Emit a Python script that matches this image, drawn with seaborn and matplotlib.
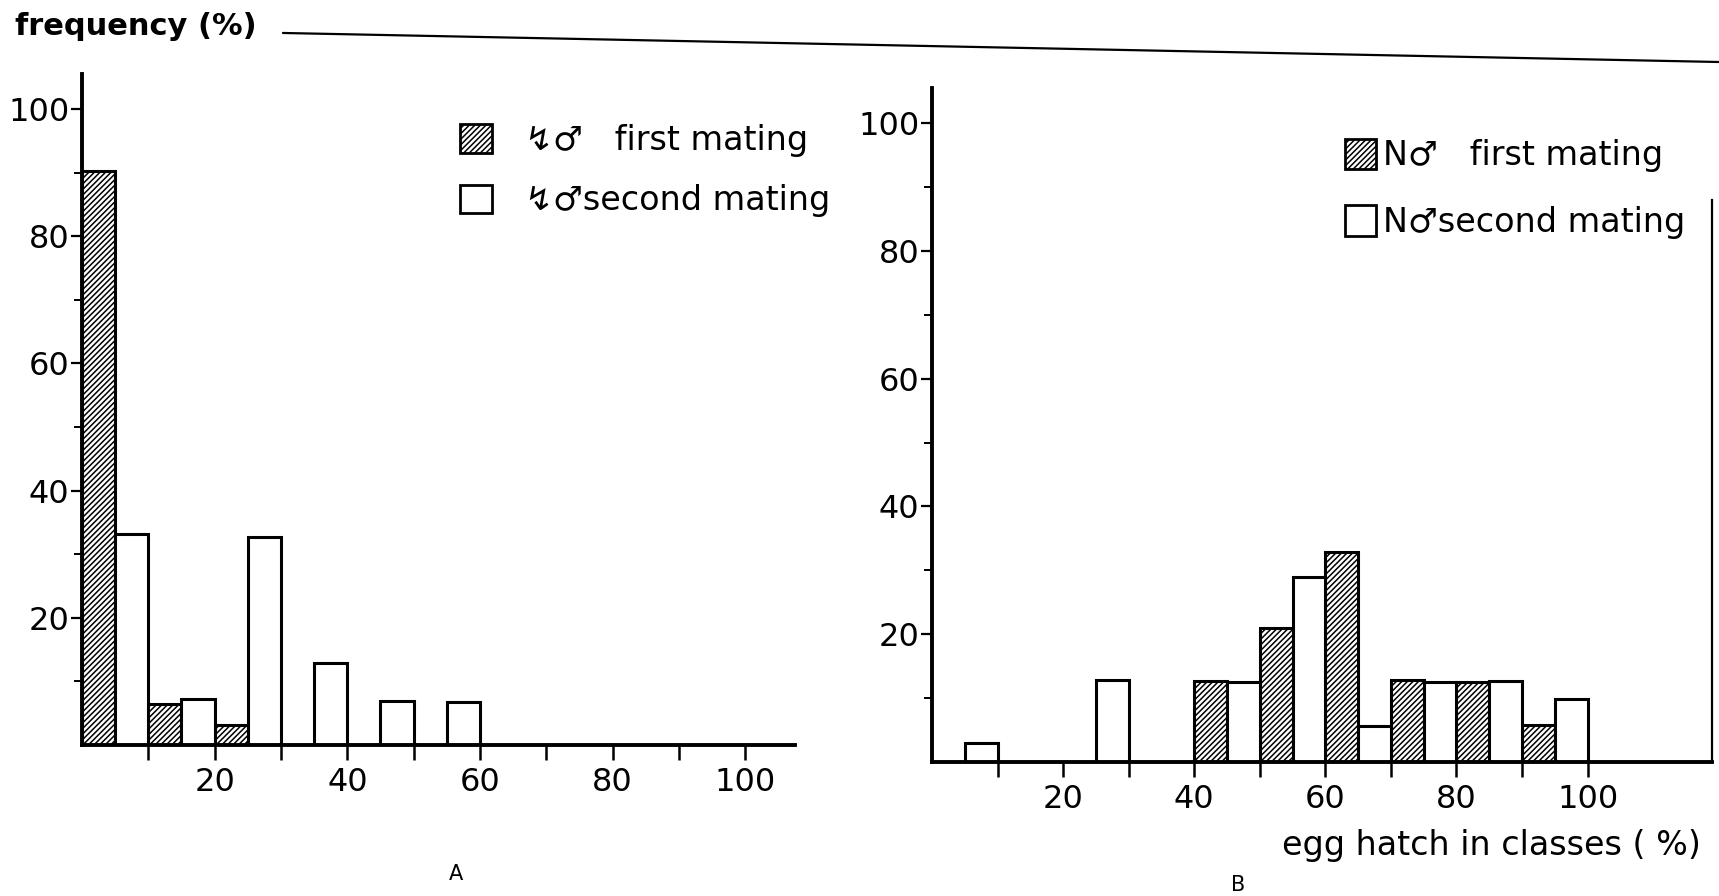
import numpy as np
import pandas as pd
import matplotlib.pyplot as plt
from matplotlib.patches import Patch
from matplotlib.lines import Line2D
import seaborn as sns

# egg hatch classes, lower edge of each 10 % class
class_edges = [0, 10, 20, 30, 40, 50, 60, 70, 80, 90]

# A: irradiated males (frequency %)
a_first = [90.3, 6.5, 3.2, 0, 0, 0, 0, 0, 0, 0]
a_second = [33.2, 7.3, 32.7, 12.9, 6.9, 6.8, 0, 0, 0, 0]

# B: normal males (frequency %)
b_first = [0, 0, 0, 0, 12.6, 20.9, 32.9, 12.8, 12.5, 5.8]
b_second = [2.9, 0, 12.9, 0, 12.5, 29.0, 5.6, 12.5, 12.6, 9.8]

series_names = ["first mating", "second mating"]
a_labels = ["\u21af\u2642   first mating", "\u21af\u2642second mating"]
b_labels = ["N\u2642   first mating", "N\u2642second mating"]

HATCH = "//////"


def build_frame(first, second):
    """Long table: first mating in the left half of a class, second in the right."""
    rows = []
    for edge, f, s in zip(class_edges, first, second):
        rows.append({"pos": edge + 2.5, "series": series_names[0], "freq": f})
        rows.append({"pos": edge + 7.5, "series": series_names[1], "freq": s})
    df = pd.DataFrame(rows)
    return df[df["freq"] > 0]


def draw_panel(ax, df, xmax):
    sns.barplot(
        data=df, x="pos", y="freq", hue="series", hue_order=series_names,
        native_scale=True, dodge=False, width=1.0, errorbar=None,
        palette=["white", "white"], saturation=1, edgecolor="black",
        linewidth=2.2, legend=False, ax=ax,
    )
    for bar in ax.containers[0]:
        bar.set_hatch(HATCH)

    ax.set_xlim(0, xmax)
    ax.set_ylim(0, 105.5)
    ax.set_xticks([20, 40, 60, 80, 100])
    ax.set_xticks([10, 30, 50, 70, 90], minor=True)
    ax.set_yticks([20, 40, 60, 80, 100])
    ax.set_yticks([10, 30, 50, 70, 90], minor=True)
    ax.set_xlabel("")
    ax.set_ylabel("")
    ax.tick_params(axis="x", which="both", bottom=True, direction="out",
                   length=11, width=1.8, labelsize=23, pad=5, colors="black")
    ax.tick_params(axis="y", which="major", left=True, direction="out",
                   length=8, width=1.6, labelsize=23, pad=1, colors="black")
    ax.tick_params(axis="y", which="minor", left=True, direction="out",
                   length=6, width=1.4, colors="black")
    for side in ["left", "bottom"]:
        ax.spines[side].set_linewidth(2.8)
        ax.spines[side].set_color("black")
    ax.spines["top"].set_visible(False)
    ax.spines["right"].set_visible(False)


def legend_handles():
    return [
        Patch(facecolor="white", edgecolor="black", hatch=HATCH, linewidth=2.0),
        Patch(facecolor="white", edgecolor="black", linewidth=2.0),
    ]


sns.set_style("white")
plt.rcParams["font.family"] = ["DejaVu Sans"]
plt.rcParams["text.color"] = "black"
plt.rcParams["hatch.linewidth"] = 1.1
plt.rcParams["hatch.color"] = "black"

fig = plt.figure(figsize=(17.19, 8.96), dpi=100)
ax_a = fig.add_axes([0.0477, 0.1685, 0.4148, 0.749])
ax_b = fig.add_axes([0.5422, 0.1496, 0.4538, 0.752])

draw_panel(ax_a, build_frame(a_first, a_second), 107.5)
draw_panel(ax_b, build_frame(b_first, b_second), 119)

# B has a thin frame line on the right side
ax_b.spines["right"].set_visible(True)
ax_b.spines["right"].set_color("black")
ax_b.spines["right"].set_linewidth(1.6)
ax_b.spines["right"].set_bounds(0, 88)

ax_a.legend(legend_handles(), a_labels, loc="upper left",
            bbox_to_anchor=(0.512, 0.945), frameon=False, fontsize=24,
            handlelength=0.95, handleheight=0.95, handletextpad=1.0,
            labelspacing=0.82, borderaxespad=0)
ax_b.legend(legend_handles(), b_labels, loc="upper left",
            bbox_to_anchor=(0.512, 0.945), frameon=False, fontsize=24,
            handlelength=0.95, handleheight=1.05, handletextpad=0.2,
            labelspacing=0.98, borderaxespad=0)

# shared y label with its long rule across the top
fig.text(0.009, 0.970, "frequency (%)", fontsize=22, fontweight="bold",
         ha="left", va="center")
fig.add_artist(Line2D([0.1646, 1.0], [0.9632, 0.9308], color="black",
                      linewidth=1.6, transform=fig.transFigure))

fig.text(0.8675, 0.056, "egg hatch in classes ( %)", fontsize=24,
         ha="center", va="center")
fig.text(0.265, 0.025, "A", fontsize=15, ha="center", va="center",
         family=["Liberation Sans Narrow", "DejaVu Sans"])
fig.text(0.720, 0.012, "B", fontsize=15, ha="center", va="center",
         family=["Liberation Sans Narrow", "DejaVu Sans"])

fig.savefig("out.png", dpi=100)
